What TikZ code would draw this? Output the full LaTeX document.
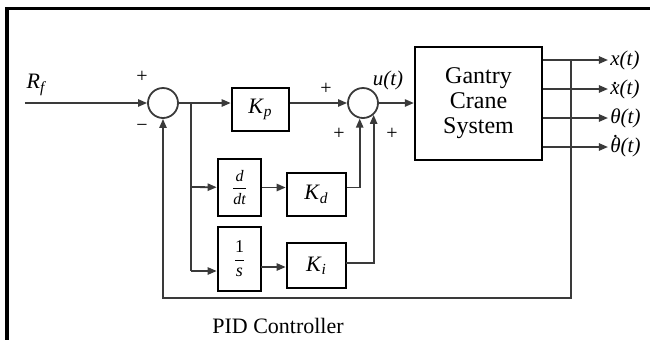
\documentclass[tikz,border=0pt]{standalone}
\usepackage{fontspec}
\setmainfont{Liberation Serif}
\usetikzlibrary{arrows.meta,positioning,calc}
\definecolor{wire}{HTML}{3A3A3A}
\newcommand{\lfrac}[2]{$\displaystyle{\hbox{#1}\over\hbox{#2}}$}
\newcommand{\dotacc}[2]{\leavevmode\ooalign{#1\cr\hidewidth\smash{\raisebox{#2}{\upshape.}}\hidewidth\cr}}

\begin{document}
\begin{tikzpicture}[x=0.5pt,y=-0.5pt,
  blk/.style 2 args={draw=black,line width=1.3pt,minimum width=#1,minimum height=#2,
              inner sep=0pt,align=center},
  sum/.style={circle,draw=wire,line width=0.9pt,minimum size=15pt,inner sep=0pt},
  ln/.style={draw=wire,line width=0.9pt},
  arr/.style={-{Triangle[length=4.5pt,width=3.6pt]},draw=wire,line width=0.9pt},
  sgn/.style={font=\fontsize{10}{12}\selectfont,inner sep=0pt},
  lbl/.style={font=\fontsize{10.5}{11}\selectfont\itshape,inner sep=0pt}
]
\useasboundingbox (0,0) rectangle (650,339);
\fill[white] (0,0) rectangle (650,339);
% frame round the figure
\draw[line width=1.5pt] (7,345) -- (7,8) -- (660,8);

% summing junctions and blocks
\node[sum] (s1) at (163,103) {};
\node[sum] (s2) at (363,103) {};
\node[blk={28.5pt}{21.5pt},font=\fontsize{11}{13}\selectfont] (kp) at (260.5,109.5) {\textit{K}\textsubscript{\textit{p}}};
\node[blk={21.5pt}{28.5pt},font=\fontsize{8}{9}\selectfont\itshape] (dd) at (239.5,187.5) {\lfrac{d}{dt}};
\node[blk={29.5pt}{21.5pt},font=\fontsize{11}{13}\selectfont] (kd) at (316.5,194.5) {\textit{K}\textsubscript{\textit{d}}};
\node[blk={21.5pt}{32pt},font=\fontsize{9}{11}\selectfont] (ig) at (239.5,259) {\lfrac{1}{\itshape s}};
\node[blk={29.5pt}{22.5pt},font=\fontsize{11}{13}\selectfont] (ki) at (316.5,265.5) {\textit{K}\textsubscript{\textit{i}}};
\node[blk={63.5pt}{56.5pt},line width=1.1pt,font=\fontsize{12}{12.5}\selectfont] (gcs) at (478.5,103.5) {Gantry\\Crane\\System};

% input and signs
\coordinate (in) at (25,103);
\node[lbl,font=\fontsize{11}{13}\selectfont\itshape] (rf) at (36,85) {R\textsubscript{f}};
\node[sgn] (p1) at (142,77) {+};
\node[sgn] (m1) at (142,128) {−};
\node[sgn] (p2) at (326,89) {+};
\node[sgn] (p3) at (339,134) {+};
\node[sgn] (p4) at (392,134) {+};
\node[lbl,font=\fontsize{10.5}{12}\selectfont\itshape] (ut) at (388,80) {u(t)};

% branch points
\coordinate (b1) at (191,103);
\coordinate (b2) at (191,187);
\coordinate (b3) at (191,271);
\coordinate (c1) at (261,267);
\coordinate (c2) at (346,263);
\coordinate (tap) at (571,60);
\coordinate (fb) at (571,298);

% outputs
\coordinate (o1) at (608,60);
\coordinate (o2) at (608,89);
\coordinate (o3) at (608,118);
\coordinate (o4) at (608,147);
\node[lbl,anchor=west] (x1) at ($(o1)+(2,0)$) {x(t)};
\node[lbl,anchor=west] (x2) at ($(o2)+(2,0)$) {\dotacc{x}{0.45em}(t)};
\node[lbl,anchor=west] (x3) at ($(o3)+(2,0)$) {θ(t)};
\node[lbl,anchor=west] (x4) at ($(o4)+(2,0)$) {\dotacc{θ}{0.68em}(t)};

\draw[arr] (in) -- (s1);
\draw[ln] (s1) -- (b1);
\draw[arr] (b1) -- (b1 -| kp.west);
\draw[ln] (b1) -- (b3);
\draw[arr] (b2) -- (dd);
\draw[arr] (b3) -- (b3 -| ig.west);
\draw[arr] (dd) -- (dd -| kd.west);
\draw[arr] (c1) -- (c1 -| ki.west);
\draw[arr] (b1 -| kp.east) -- (s2);
\draw[arr] (kd.east |- dd) -| (s2.-102);
\draw[arr] (c2) -| (s2.-48);
\draw[arr] (s2) -- (s2 -| gcs.west);
\draw[arr] (gcs.east |- o1) -- (o1);
\draw[arr] (gcs.east |- o2) -- (o2);
\draw[arr] (gcs.east |- o3) -- (o3);
\draw[arr] (gcs.east |- o4) -- (o4);
\draw[arr] (tap) -- (fb) -| (s1);

% caption under the loop
\node[font=\fontsize{11}{13}\selectfont] (cap) at (278,326) {PID Controller};
\end{tikzpicture}
\end{document}
